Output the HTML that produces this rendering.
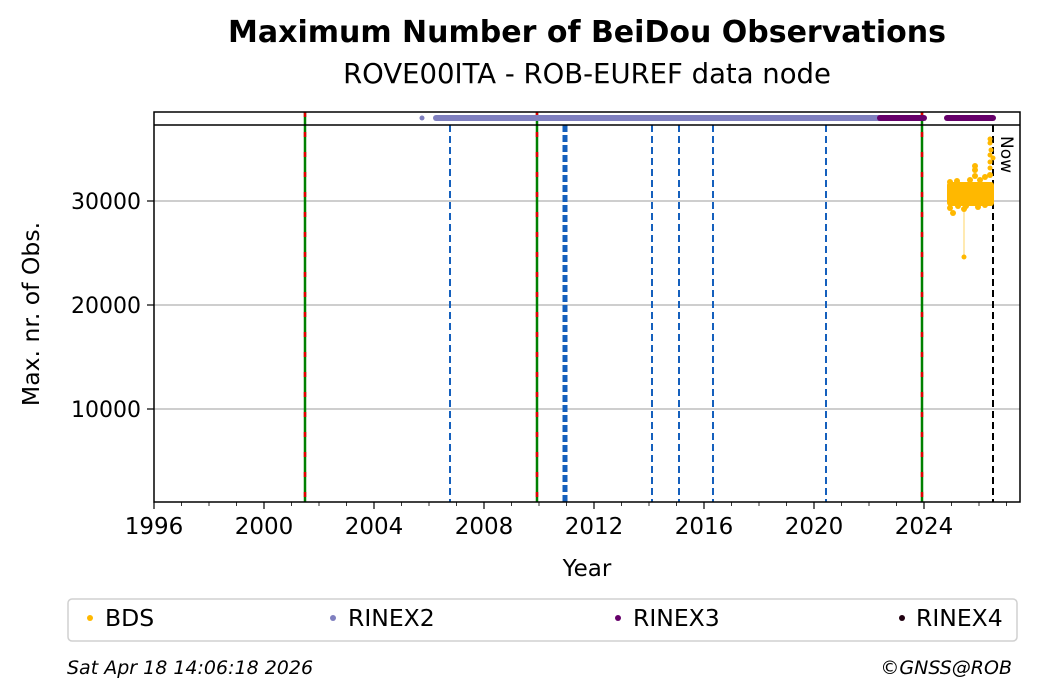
<!DOCTYPE html>
<html><head><meta charset="utf-8"><style>
body{margin:0;background:#fff;}
svg{display:block;font-family:"DejaVu Sans","Liberation Sans",sans-serif;}
</style></head><body>
<svg width="1040" height="699" viewBox="0 0 1040 699">
<text x="587" y="42" text-anchor="middle" font-size="30" font-weight="bold">Maximum Number of BeiDou Observations</text>
<text x="587" y="83" text-anchor="middle" font-size="27.5">ROVE00ITA - ROB-EUREF data node</text>
<g stroke="#b0b0b0" stroke-width="1.2">
<line x1="154" x2="1020" y1="201" y2="201"/><line x1="154" x2="1020" y1="305" y2="305"/><line x1="154" x2="1020" y1="409" y2="409"/>
</g>
<g stroke="#1560bd" stroke-width="2" stroke-dasharray="7,4">
<line x1="450" x2="450" y1="125" y2="502"/><line x1="652" x2="652" y1="125" y2="502"/><line x1="679" x2="679" y1="125" y2="502"/><line x1="713" x2="713" y1="125" y2="502"/><line x1="826" x2="826" y1="125" y2="502"/>
</g>
<line x1="565" x2="565" y1="125" y2="502" stroke="#1560bd" stroke-width="5" stroke-dasharray="7,3"/>
<g>
<line x1="305" x2="305" y1="112" y2="502" stroke="#008000" stroke-width="2.5"/>
<line x1="537" x2="537" y1="112" y2="502" stroke="#008000" stroke-width="2.5"/>
<line x1="922" x2="922" y1="112" y2="502" stroke="#008000" stroke-width="2.5"/>
<g stroke="#e00000" stroke-width="2.5" stroke-dasharray="5,15">
<line x1="305" x2="305" y1="112" y2="502"/><line x1="537" x2="537" y1="112" y2="502"/><line x1="922" x2="922" y1="112" y2="502"/>
</g></g>
<line x1="993" x2="993" y1="125" y2="502" stroke="#000" stroke-width="2" stroke-dasharray="7,4"/>
<text transform="translate(1001,136) rotate(90)" font-size="17">Now</text>
<circle cx="422" cy="118" r="2.5" fill="#7f7fbf"/>
<line x1="436" x2="882" y1="118" y2="118" stroke="#7f7fbf" stroke-width="6" stroke-linecap="round"/>
<line x1="880" x2="924" y1="118" y2="118" stroke="#66006a" stroke-width="6" stroke-linecap="round"/>
<line x1="947" x2="993" y1="118" y2="118" stroke="#66006a" stroke-width="6" stroke-linecap="round"/>
<g fill="#ffb800">
<line x1="964" x2="964" y1="205" y2="257" stroke="#ffb800" stroke-width="0.6"/>
<circle cx="964" cy="257" r="2.5"/>
<rect x="947" y="182" width="47" height="24" rx="3"/>
<circle cx="950" cy="208" r="3"/><circle cx="953" cy="213" r="3"/><circle cx="958" cy="206" r="3"/><circle cx="964" cy="209" r="3"/><circle cx="966" cy="206" r="3"/>
<circle cx="950" cy="182" r="3"/><circle cx="957" cy="181" r="3"/><circle cx="970" cy="180" r="3"/>
<circle cx="975" cy="176" r="3"/><circle cx="975" cy="170" r="3"/><circle cx="975" cy="166" r="3"/>
<circle cx="980" cy="180" r="3"/><circle cx="985" cy="177" r="3"/><circle cx="990" cy="175" r="3"/>
<circle cx="990" cy="168" r="2.5"/><circle cx="990" cy="162" r="2.5"/><circle cx="990" cy="155" r="2.5"/><circle cx="991" cy="150" r="2.5"/><circle cx="990" cy="143" r="2.5"/><circle cx="990" cy="139" r="2.5"/><circle cx="993" cy="158" r="2.5"/>
<circle cx="985" cy="205" r="3"/><circle cx="978" cy="207" r="3"/>
</g>
<rect x="154" y="112" width="866" height="390" fill="none" stroke="#000" stroke-width="1.5"/>
<line x1="154" x2="1020" y1="125" y2="125" stroke="#000" stroke-width="1.5"/>
<g stroke="#000" stroke-width="1.2">
<line x1="154" x2="154" y1="502" y2="509"/><line x1="264" x2="264" y1="502" y2="509"/><line x1="374" x2="374" y1="502" y2="509"/><line x1="484" x2="484" y1="502" y2="509"/><line x1="594" x2="594" y1="502" y2="509"/><line x1="704" x2="704" y1="502" y2="509"/><line x1="814" x2="814" y1="502" y2="509"/><line x1="924" x2="924" y1="502" y2="509"/>
<line x1="147" x2="154" y1="201" y2="201"/><line x1="147" x2="154" y1="305" y2="305"/><line x1="147" x2="154" y1="409" y2="409"/>
</g>
<g stroke="#000" stroke-width="0.8">
<line x1="181.5" x2="181.5" y1="502" y2="506"/><line x1="209" x2="209" y1="502" y2="506"/><line x1="236.5" x2="236.5" y1="502" y2="506"/>
<line x1="291.5" x2="291.5" y1="502" y2="506"/><line x1="319" x2="319" y1="502" y2="506"/><line x1="346.5" x2="346.5" y1="502" y2="506"/>
<line x1="401.5" x2="401.5" y1="502" y2="506"/><line x1="429" x2="429" y1="502" y2="506"/><line x1="456.5" x2="456.5" y1="502" y2="506"/>
<line x1="511.5" x2="511.5" y1="502" y2="506"/><line x1="539" x2="539" y1="502" y2="506"/><line x1="566.5" x2="566.5" y1="502" y2="506"/>
<line x1="621.5" x2="621.5" y1="502" y2="506"/><line x1="649" x2="649" y1="502" y2="506"/><line x1="676.5" x2="676.5" y1="502" y2="506"/>
<line x1="731.5" x2="731.5" y1="502" y2="506"/><line x1="759" x2="759" y1="502" y2="506"/><line x1="786.5" x2="786.5" y1="502" y2="506"/>
<line x1="841.5" x2="841.5" y1="502" y2="506"/><line x1="869" x2="869" y1="502" y2="506"/><line x1="896.5" x2="896.5" y1="502" y2="506"/>
<line x1="951.5" x2="951.5" y1="502" y2="506"/><line x1="979" x2="979" y1="502" y2="506"/><line x1="1006.5" x2="1006.5" y1="502" y2="506"/>
</g>
<g font-size="23" text-anchor="middle">
<text x="154" y="534">1996</text><text x="264" y="534">2000</text><text x="374" y="534">2004</text><text x="484" y="534">2008</text><text x="594" y="534">2012</text><text x="704" y="534">2016</text><text x="814" y="534">2020</text><text x="924" y="534">2024</text>
<text x="587" y="576">Year</text>
</g>
<g font-size="22" text-anchor="end">
<text x="141" y="209">30000</text><text x="141" y="313">20000</text><text x="141" y="417">10000</text>
</g>
<text transform="translate(39,314) rotate(-90)" font-size="23.5" text-anchor="middle">Max. nr. of Obs.</text>
<rect x="68" y="599" width="949" height="42" rx="4" fill="#fff" stroke="#d0d0d0" stroke-width="1.5"/>
<g font-size="23.5">
<circle cx="90" cy="618" r="3" fill="#ffb800"/><text x="105" y="626">BDS</text>
<circle cx="333" cy="618" r="3" fill="#7f7fbf"/><text x="348" y="626">RINEX2</text>
<circle cx="618" cy="618" r="3" fill="#66006a"/><text x="633" y="626">RINEX3</text>
<circle cx="902" cy="618" r="3" fill="#200010"/><text x="916" y="626">RINEX4</text>
</g>
<text x="67" y="674" font-size="19" font-style="italic">Sat Apr 18 14:06:18 2026</text>
<text x="1012" y="674" font-size="19" font-style="italic" text-anchor="end">©GNSS@ROB</text>
</svg>
</body></html>
